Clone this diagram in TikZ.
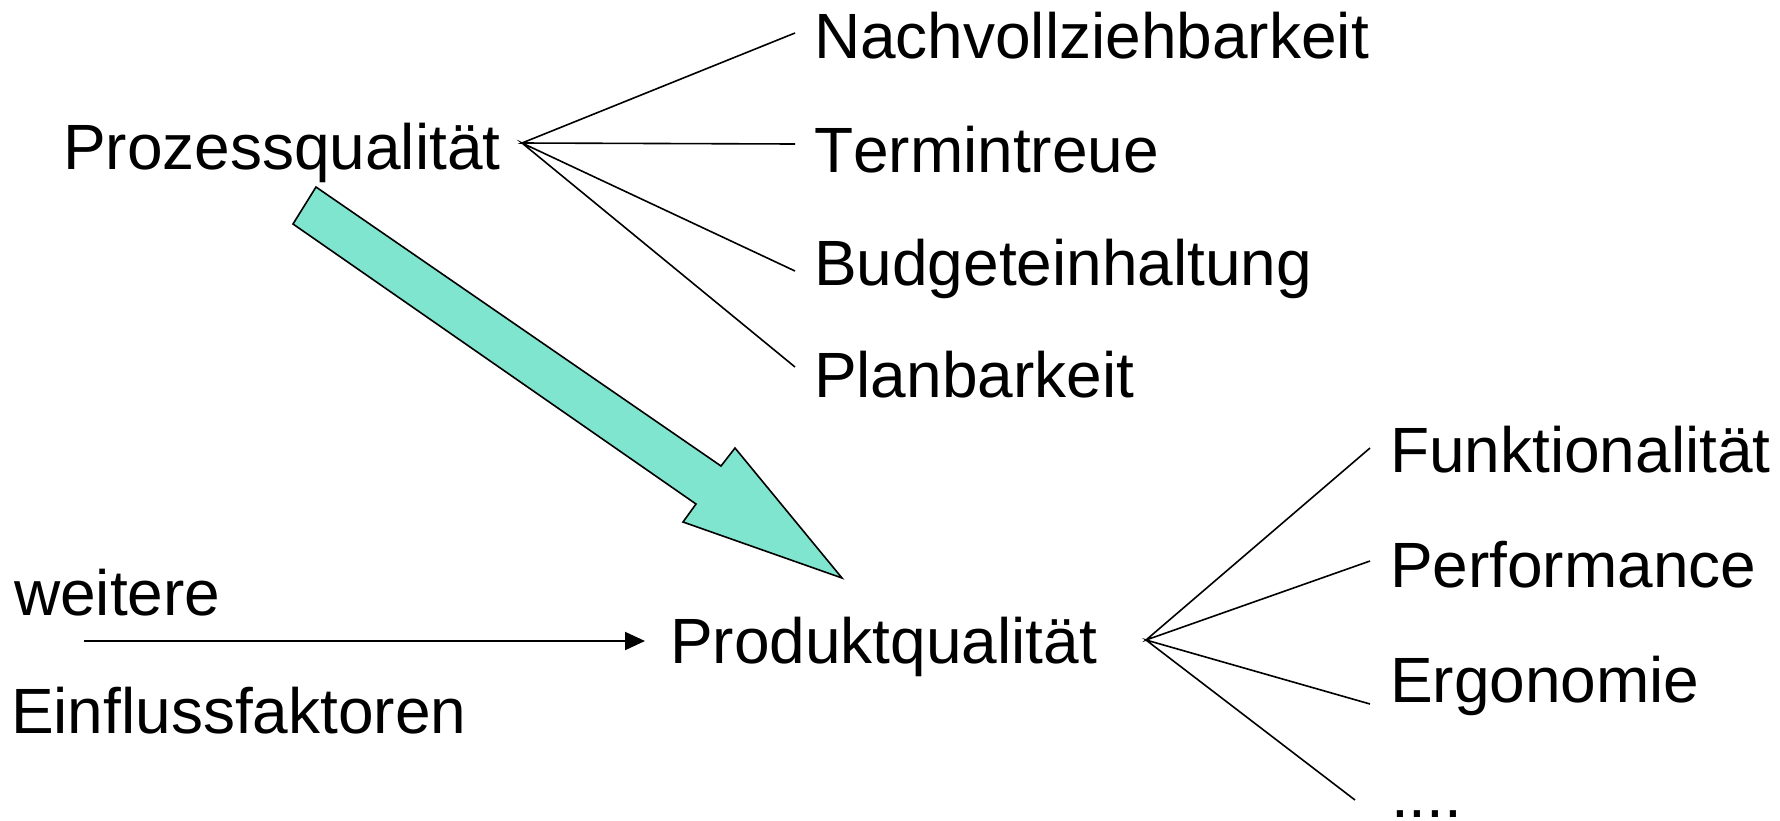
\documentclass[tikz,border=0pt]{standalone}
\usepackage{fontspec}
\setmainfont[Kerning=Off]{Liberation Sans}
\usetikzlibrary{arrows.meta}
\definecolor{mint}{RGB}{128,229,206}
\tikzset{
  lbl/.style={anchor=base west, inner sep=0pt, outer sep=0pt, font=\fontsize{64pt}{70pt}\selectfont},
  fan/.style={line width=1.6pt, black},
  bigarrow/.style={fill=mint, draw=black, line width=1.6pt, line join=miter},
  flow/.style={line width=2pt, -{Triangle[length=20pt,width=18pt]}}
}
\begin{document}
\begin{tikzpicture}[x=1pt,y=-1pt]
\useasboundingbox (0,0) rectangle (1780,820);
% upper block
\node[lbl] (proz) at (63,169) {Prozessqualität};
\node[lbl] (nach) at (814,58) {Nachvollziehbarkeit};
\node[lbl] (term) at (814,172) {Termintreue};
\node[lbl] (budg) at (814,285) {Budgeteinhaltung};
\node[lbl] (plan) at (814,397) {Planbarkeit};
\coordinate (pq) at (522,143);
\coordinate (e1) at (795,33);
\coordinate (e2) at (795,144);
\coordinate (e3) at (795,271);
\coordinate (e4) at (795,367);
\draw[fan] (e1) -- (pq) -- (e2);
\draw[fan] (e3) -- (pq) -- (e4);
% big arrow
\draw[bigarrow] (316,187) -- (721,466) -- (735,448) -- (842,578) -- (683,522) -- (696,504) -- (293,224) -- cycle;
% lower block
\node[lbl] (weit) at (14,615) {weitere};
\node[lbl] (einf) at (11,733) {Einflussfaktoren};
\node[lbl] (prod) at (670,663) {Produktqualität};
\coordinate (ws) at (84,641);
\coordinate (we) at (645,641);
\draw[flow] (ws) -- (we);
\node[lbl] (funk) at (1390,472) {Funktionalität};
\node[lbl] (perf) at (1390,587) {Performance};
\node[lbl] (ergo) at (1390,702) {Ergonomie};
\node[lbl] (dots) at (1391,817) {....};
\coordinate (pd) at (1146,640);
\coordinate (f1) at (1370,448);
\coordinate (f2) at (1370,561);
\coordinate (f3) at (1370,704);
\coordinate (f4) at (1355,800);
\draw[fan] (f1) -- (pd) -- (f2);
\draw[fan] (f3) -- (pd) -- (f4);
\end{tikzpicture}
\end{document}
